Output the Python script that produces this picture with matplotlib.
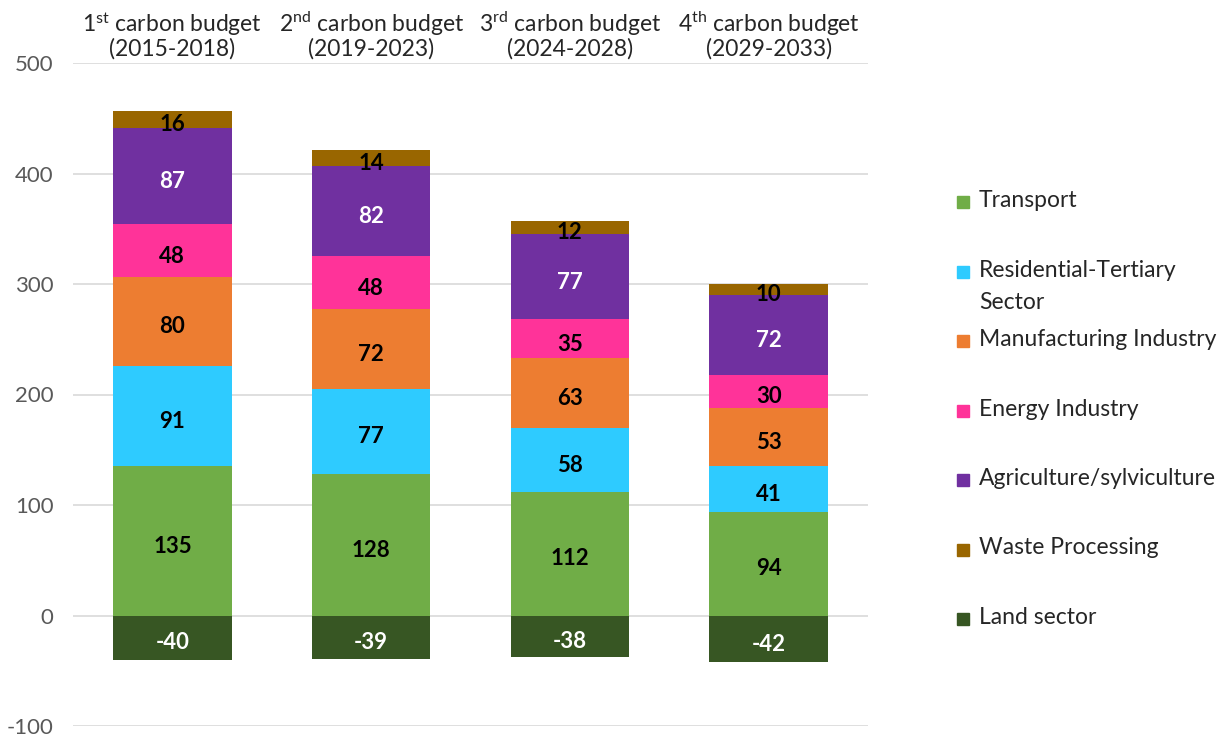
import matplotlib
matplotlib.use("Agg")
import matplotlib.pyplot as plt
from matplotlib.patches import Rectangle
import numpy as np

plt.rcParams["font.family"] = ["Lato", "DejaVu Sans"]
plt.rcParams["mathtext.fontset"] = "custom"
plt.rcParams["mathtext.rm"] = "Lato"
plt.rcParams["mathtext.it"] = "Lato"
plt.rcParams["mathtext.bf"] = "Lato:bold"

budgets = [
    "1$^{\\mathrm{st}}$ carbon budget\n(2015-2018)",
    "2$^{\\mathrm{nd}}$ carbon budget\n(2019-2023)",
    "3$^{\\mathrm{rd}}$ carbon budget\n(2024-2028)",
    "4$^{\\mathrm{th}}$ carbon budget\n(2029-2033)",
]

transport = [135, 128, 112, 94]
residential = [91, 77, 58, 41]
manufacturing = [80, 72, 63, 53]
energy = [48, 48, 35, 30]
agriculture = [87, 82, 77, 72]
waste = [16, 14, 12, 10]
land = [-40, -39, -38, -42]

y_ticks = [-100, 0, 100, 200, 300, 400, 500]

stack = [
    ("Transport", transport, "#70AD47", "black"),
    ("Residential-Tertiary\nSector", residential, "#2ECBFF", "black"),
    ("Manufacturing Industry", manufacturing, "#ED7D31", "black"),
    ("Energy Industry", energy, "#FF3399", "black"),
    ("Agriculture/sylviculture", agriculture, "#7030A0", "white"),
    ("Waste Processing", waste, "#996600", "black"),
]
land_style = ("Land sector", land, "#375623", "white")

fig = plt.figure(figsize=(12.32, 7.38), dpi=100)
ax = fig.add_axes([73 / 1232, 12 / 738, 795 / 1232, 663 / 738])

x = np.arange(len(budgets))
width = 0.595
bottom = np.zeros(len(budgets))
label_kw = dict(ha="center", va="center_baseline", fontsize=16, fontweight="bold", zorder=4)

for name, vals, color, tcolor in stack:
    vals = np.array(vals, dtype=float)
    ax.bar(x, vals, width, bottom=bottom, color=color, zorder=3)
    for xi, b, v in zip(x, bottom, vals):
        ax.text(xi, b + v / 2 - 3, f"{int(v)}", color=tcolor, **label_kw)
    bottom += vals

name, vals, color, tcolor = land_style
vals = np.array(vals, dtype=float)
ax.bar(x, vals, width, color=color, zorder=3)
for xi, v in zip(x, vals):
    ax.text(xi, v / 2 - 3, f"{int(v)}", color=tcolor, **label_kw)

ax.set_xlim(-0.5, len(budgets) - 0.5)
ax.set_ylim(-100, 500)
ax.set_yticks(y_ticks)
ax.set_yticklabels([str(t) for t in y_ticks], fontsize=16, color="#595959")
ax.tick_params(axis="y", length=0, pad=14)
ax.set_xticks([])
ax.grid(axis="y", color="#D9D9D9", linewidth=1.2, zorder=0)
for s in ax.spines.values():
    s.set_visible(False)

# category labels above the plot area
for xi, lab in zip(x, budgets):
    ax.text(xi, 503, lab, ha="center", va="bottom", fontsize=16.5,
            color="#262626", linespacing=1.0)

# legend on the right
entries = stack + [land_style]
y0 = 738 - 202
step = 69.5
for i, (name, vals, color, tcolor) in enumerate(entries):
    yc = (y0 - i * step) / 738
    fig.patches.append(Rectangle((957 / 1232, yc - 6 / 738), 12 / 1232, 12 / 738,
                                 transform=fig.transFigure, color=color))
    fig.text(979 / 1232, yc + 12 / 738, name, ha="left", va="top",
             fontsize=16.5, color="#262626", linespacing=1.65)

fig.savefig("out.png", dpi=100)
